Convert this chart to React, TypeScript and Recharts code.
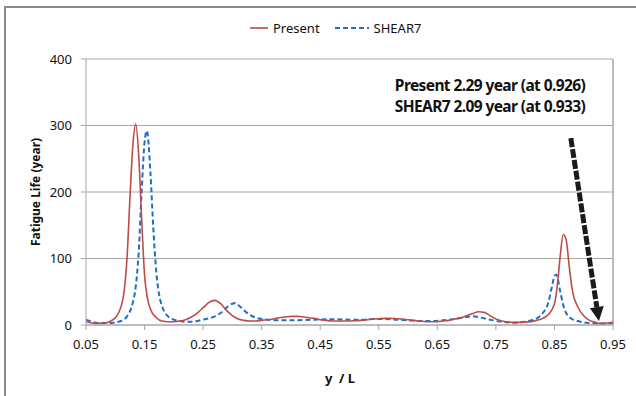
import { CartesianGrid, Line, LineChart, ReferenceLine, XAxis, YAxis } from "recharts";

// position along riser (y/L) and fatigue life (year)
const presentX = [
  0.05, 0.06, 0.07, 0.08, 0.09, 0.1, 0.11, 0.115, 0.12, 0.125, 0.13, 0.135, 0.14, 0.145, 0.15, 0.155,
  0.16, 0.17, 0.18, 0.19, 0.2, 0.21, 0.22, 0.23, 0.24, 0.25, 0.26, 0.27, 0.28, 0.29, 0.3, 0.31, 0.32,
  0.33, 0.34, 0.35, 0.36, 0.37, 0.38, 0.39, 0.4, 0.41, 0.42, 0.43, 0.44, 0.45, 0.46, 0.47, 0.48, 0.49,
  0.5, 0.51, 0.52, 0.53, 0.54, 0.55, 0.56, 0.57, 0.58, 0.59, 0.6, 0.61, 0.62, 0.63, 0.64, 0.65, 0.66,
  0.67, 0.68, 0.69, 0.7, 0.71, 0.72, 0.73, 0.74, 0.75, 0.76, 0.77, 0.78, 0.79, 0.8, 0.81, 0.82, 0.83,
  0.84, 0.85, 0.855, 0.86, 0.865, 0.87, 0.875, 0.88, 0.89, 0.9, 0.91, 0.92, 0.926, 0.93, 0.94, 0.95,
];
const presentLife = [
  5, 3, 2.5, 3, 5, 11, 28, 50, 100, 190, 270, 302, 255, 160, 75, 40,
  24, 11, 6, 5, 5, 6, 8, 12, 18, 26, 34, 37, 32, 22, 14, 9, 7,
  6, 6, 7, 8, 9, 11, 12, 13, 13, 12.5, 11, 10, 8, 7, 6, 6, 6,
  6, 6.5, 7, 8, 9, 9.5, 10, 10, 9.5, 9, 8, 7, 6, 5, 5, 5, 6,
  7, 9, 11, 14, 17, 20, 19, 14, 9, 6, 4.5, 4, 4, 4.5, 5, 7, 10,
  16, 32, 60, 105, 136, 128, 90, 55, 27, 14, 7, 4, 2.3, 2.5, 3, 4,
];

const shearX = [
  0.05, 0.06, 0.07, 0.08, 0.09, 0.1, 0.11, 0.12, 0.13, 0.135, 0.14, 0.145, 0.15, 0.154, 0.16, 0.165,
  0.17, 0.175, 0.18, 0.19, 0.2, 0.21, 0.22, 0.23, 0.24, 0.25, 0.26, 0.27, 0.28, 0.29, 0.3, 0.305, 0.31,
  0.32, 0.33, 0.34, 0.35, 0.36, 0.38, 0.4, 0.42, 0.44, 0.46, 0.48, 0.5, 0.52, 0.54, 0.56, 0.58, 0.6,
  0.62, 0.64, 0.66, 0.68, 0.7, 0.71, 0.72, 0.73, 0.74, 0.75, 0.76, 0.77, 0.78, 0.79, 0.8, 0.81, 0.82,
  0.83, 0.84, 0.845, 0.85, 0.853, 0.86, 0.865, 0.87, 0.88, 0.89, 0.9, 0.91, 0.92, 0.933, 0.94, 0.95,
];
const shearLife = [
  8, 5, 3, 3, 3, 4, 6, 13, 34, 58, 110, 200, 275, 292, 230, 145,
  80, 45, 28, 13, 8, 6, 5, 5, 6, 8, 10, 13, 18, 26, 32, 33, 30,
  22, 15, 11, 9, 8, 7, 7, 7.5, 8, 8.5, 8.5, 8, 8, 9, 9, 8, 7,
  6, 6, 7, 9, 12, 13, 12, 10, 8, 6, 5, 4, 3.5, 4, 5, 7, 10,
  18, 35, 55, 73, 76, 50, 30, 18, 9, 6, 4, 3, 2.5, 2.1, 2.5, 3,
];

const xTicks = [0.05, 0.15, 0.25, 0.35, 0.45, 0.55, 0.65, 0.75, 0.85, 0.95];
const yTicks = [0, 100, 200, 300, 400];

// arrow pointing at the minimum fatigue life
const arrowFrom = { x: 0.878, y: 281 };
const arrowTo = { x: 0.926, y: 6 };

const presentData = presentX.map((x, i) => ({ x, life: presentLife[i] }));
const shearData = shearX.map((x, i) => ({ x, life: shearLife[i] }));

const RED = "#BE4B48";
const BLUE = "#1F6FC5";
const GRID = "#A6A6A6";
const FONT = "'Noto Sans', 'DejaVu Sans', sans-serif";

function Arrow(props: any) {
  const { x1, y1, x2, y2 } = props;
  if ([x1, y1, x2, y2].some((v) => typeof v !== "number")) return null;
  const ang = Math.atan2(y2 - y1, x2 - x1);
  const len = 14;
  const half = 7;
  const bx = x2 - len * Math.cos(ang);
  const by = y2 - len * Math.sin(ang);
  const px = -Math.sin(ang) * half;
  const py = Math.cos(ang) * half;
  return (
    <g>
      <line x1={x1} y1={y1} x2={bx} y2={by} stroke="#1a1a1a" strokeWidth={5} strokeDasharray="9 2" />
      <polygon points={`${x2},${y2} ${bx + px},${by + py} ${bx - px},${by - py}`} fill="#1a1a1a" />
    </g>
  );
}

export default function App() {
  return (
    <div style={{ position: "fixed", left: 0, top: 0, width: 636, height: 396, background: "#fff", fontFamily: FONT, overflow: "hidden" }}>
      <div style={{ position: "absolute", left: 4, top: 6, width: 700, height: 500, borderLeft: "2px solid #8a8a8a", borderTop: "2px solid #8a8a8a" }} />

      <LineChart width={636} height={396} margin={{ top: 59, right: 23, bottom: 0, left: 0 }} style={{ position: "absolute", left: 0, top: 0 }}>
        <CartesianGrid vertical={false} stroke={GRID} strokeWidth={1} />
        <XAxis
          type="number"
          dataKey="x"
          domain={[0.05, 0.95]}
          ticks={xTicks}
          tickFormatter={(v: number) => v.toFixed(2)}
          allowDataOverflow
          height={71}
          stroke={GRID}
          tickSize={5}
          tickMargin={10}
          tick={{ fill: "#111", fontSize: 13, fontFamily: FONT }}
        />
        <YAxis
          type="number"
          domain={[0, 400]}
          ticks={yTicks}
          width={86}
          stroke={GRID}
          tickSize={5}
          tickMargin={9}
          tick={{ fill: "#111", fontSize: 13, fontFamily: FONT }}
        />
        <ReferenceLine x={0.95} stroke={GRID} strokeWidth={1.5} />
        <Line data={shearData} dataKey="life" type="monotone" stroke={BLUE} strokeWidth={2} strokeDasharray="5 3" dot={false} isAnimationActive={false} />
        <Line data={presentData} dataKey="life" type="monotone" stroke={RED} strokeWidth={1.6} dot={false} isAnimationActive={false} />
        <ReferenceLine
          segment={[arrowFrom, arrowTo]}
          shape={(p: any) => <Arrow {...p} />}
          ifOverflow="visible"
        />
      </LineChart>

      {/* legend */}
      <div style={{ position: "absolute", left: 250, top: 19, display: "flex", alignItems: "center", fontSize: 13, color: "#111" }}>
        <svg width={18} height={4}><line x1={0} y1={2} x2={18} y2={2} stroke={RED} strokeWidth={1.6} /></svg>
        <span style={{ marginLeft: 5 }}>Present</span>
        <svg width={34} height={4} style={{ marginLeft: 15 }}><line x1={0} y1={2} x2={34} y2={2} stroke={BLUE} strokeWidth={2} strokeDasharray="5 3" /></svg>
        <span style={{ marginLeft: 5 }}>SHEAR7</span>
      </div>

      {/* annotation */}
      <div style={{ position: "absolute", left: 380, top: 75, width: 220, textAlign: "center", fontSize: 15.5, fontWeight: 700, lineHeight: "21px", color: "#111", whiteSpace: "nowrap", letterSpacing: -0.6 }}>
        <div>Present 2.29 year (at 0.926)</div>
        <div>SHEAR7 2.09 year (at 0.933)</div>
      </div>

      {/* axis titles */}
      <div style={{ position: "absolute", left: 35, top: 192, transform: "translate(-50%, -50%) rotate(-90deg)", fontSize: 12, fontWeight: 700, whiteSpace: "nowrap", color: "#111" }}>
        Fatigue Life (year)
      </div>
      <div style={{ position: "absolute", left: 340, top: 378, transform: "translate(-50%, -50%)", fontSize: 13, fontWeight: 700, whiteSpace: "pre", color: "#111" }}>
        {"y  / L"}
      </div>
    </div>
  );
}
